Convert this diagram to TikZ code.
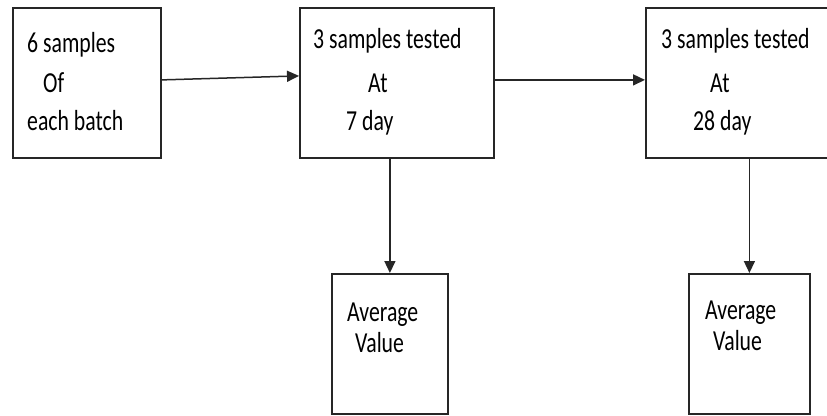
\documentclass[tikz,border=0pt]{standalone}
\usepackage{fontspec}
\setmainfont{Carlito}[FakeStretch=0.75]
\usetikzlibrary{arrows.meta}
\begin{document}
\begin{tikzpicture}[x=1pt,y=-1pt,
  box/.style={draw=black!85, line width=1.8pt, anchor=north west, inner sep=0pt, fill=white},
  lbl/.style={anchor=base west, inner sep=0pt, font=\fontsize{29}{35}\selectfont, text=black},
  arr/.style={draw=black!85, line width=1.5pt, -{Triangle[length=12pt,width=11pt]}}]
\clip (0,0) rectangle (827,415);
\fill[white] (0,0) rectangle (827,415);
% boxes
\node[box, minimum width=148pt, minimum height=150pt] (b1) at (12,7) {};
\node[box, minimum width=194pt, minimum height=150pt] (b2) at (299,7) {};
\node[box, minimum width=194pt, minimum height=150pt] (b3) at (645,7) {};
\node[box, minimum width=116pt, minimum height=140pt] (b4) at (331,273) {};
\node[box, minimum width=121pt, minimum height=140pt] (b5) at (688,273) {};
% texts
\node[lbl] (t1a) at (27,52) {6 samples};
\node[lbl] (t1b) at (43,92) {Of};
\node[lbl] (t1c) at (27,130) {each batch};
\node[lbl] (t2a) at (313,48) {3 samples tested};
\node[lbl] (t2b) at (368,92) {At};
\node[lbl] (t2c) at (346,130) {7 day};
\node[lbl] (t3a) at (661,48) {3 samples tested};
\node[lbl] (t3b) at (710,92) {At};
\node[lbl] (t3c) at (693,130) {28 day};
\node[lbl] (t4a) at (347,321) {Average};
\node[lbl] (t4b) at (355,352) {Value};
\node[lbl] (t5a) at (705,319) {Average};
\node[lbl] (t5b) at (713,350) {Value};
% connectors
\draw[arr] ([yshift=3pt]b1.east) -- ([yshift=7pt]b2.west);
\draw[arr] ([yshift=3pt]b2.east) -- ([yshift=3pt]b3.west);
\draw[arr] (b2.south -| b4.north) -- (b4.north);
\draw[arr] (b3.south -| b5.north) -- (b5.north);
\end{tikzpicture}
\end{document}
